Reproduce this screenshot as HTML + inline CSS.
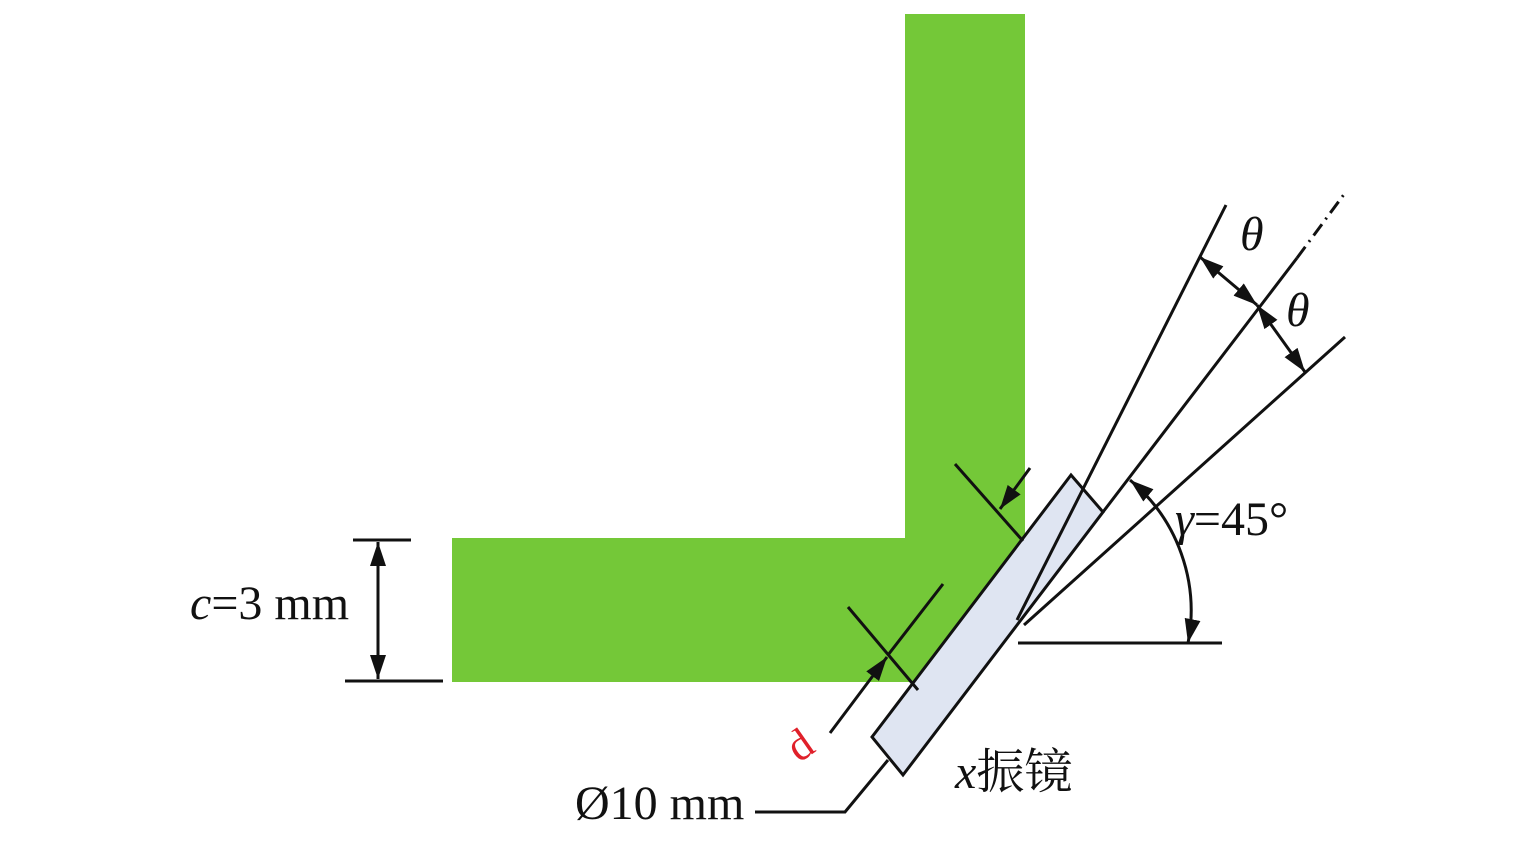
<!DOCTYPE html>
<html><head><meta charset="utf-8"><style>body{margin:0;background:#fff}svg{display:block}</style></head><body>
<svg width="1535" height="846" viewBox="0 0 1535 846" xmlns="http://www.w3.org/2000/svg">
<defs>
<marker id="b" viewBox="0 0 10 10" refX="10" refY="5" markerWidth="24" markerHeight="16" orient="auto-start-reverse" markerUnits="userSpaceOnUse" preserveAspectRatio="none"><path d="M0,0 L10,5 L0,10 z" fill="#111"/></marker>
</defs>
<polygon points="905,14 1025,14 1025,541 917,682 452,682 452,538 905,538" fill="#74c838"/>
<polygon points="1071,475 1103,512 903,775 872,737" fill="#dfe5f2" stroke="#111" stroke-width="3"/>
<g stroke="#111" stroke-width="3" fill="none">
<line x1="1226" y1="205" x2="1017" y2="620"/>
<line x1="1297" y1="258" x2="1103" y2="512"/>
<line x1="1297" y1="258" x2="1345" y2="193" stroke-dasharray="14,6,2,6"/>
<line x1="1345" y1="337" x2="1024" y2="625"/>
<line x1="1018" y1="643" x2="1222" y2="643"/>
<path d="M1130,480 A170,170 0 0 1 1188,643" marker-start="url(#b)" marker-end="url(#b)"/>
<line x1="1200" y1="257" x2="1257" y2="305" marker-start="url(#b)" marker-end="url(#b)"/>
<line x1="1257" y1="305" x2="1305" y2="372" marker-start="url(#b)" marker-end="url(#b)"/>
<line x1="955" y1="464" x2="1023" y2="541"/>
<line x1="1030" y1="468" x2="1000" y2="509" marker-end="url(#b)"/>
<line x1="848" y1="607" x2="918" y2="690"/>
<line x1="943" y1="584" x2="888" y2="655"/>
<line x1="830" y1="733" x2="887" y2="657" marker-end="url(#b)"/>
<line x1="353" y1="540" x2="411" y2="540"/>
<line x1="345" y1="681" x2="443" y2="681"/>
<line x1="378" y1="542" x2="378" y2="679" marker-start="url(#b)" marker-end="url(#b)"/>
<polyline points="755,812 845,812 888,760"/>
</g>
<g font-family="Liberation Serif, 'Noto Serif CJK SC', serif" font-size="48" fill="#111">
<text x="190" y="619"><tspan font-style="italic">c</tspan>=3 mm</text>
<text x="575" y="819">Ø10 mm</text>
<text x="955" y="788"><tspan font-style="italic">x</tspan>振镜</text>
<text x="1175" y="535"><tspan font-style="italic">γ</tspan>=45°</text>
<text x="1240" y="250" font-style="italic">θ</text>
<text x="1286" y="326" font-style="italic">θ</text>
<text x="0" y="0" font-size="44" fill="#e0202a" text-anchor="middle" transform="translate(808,757) rotate(-35)">d</text>
</g>
</svg>
</body></html>
